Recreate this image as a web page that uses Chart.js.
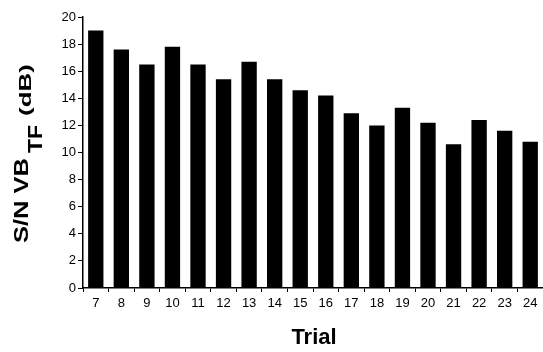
<!DOCTYPE html>
<html><head><meta charset="utf-8">
<script src="https://cdn.jsdelivr.net/npm/chart.js@4/dist/chart.umd.min.js"></script>
<style>html,body{margin:0;padding:0;background:#fff}#wrap{width:543px;height:352px}</style>
</head><body><div id="wrap"><canvas id="c" width="543" height="352"></canvas></div>
<script>
const trials = ['7','8','9','10','11','12','13','14','15','16','17','18','19','20','21','22','23','24'];
const snValues = [19.0, 17.6, 16.5, 17.8, 16.5, 15.4, 16.7, 15.4, 14.6, 14.2, 12.9, 12.0, 13.3, 12.2, 10.6, 12.4, 11.6, 10.8];
const yTicks = [0, 2, 4, 6, 8, 10, 12, 14, 16, 18, 20];
const xTitle = 'Trial';
const yTitleMain = 'S/N VB';
const yTitleSub = 'TF';
const yTitleUnit = '(dB)';

const FONT = '"Liberation Sans", Arial, sans-serif';

function drawStretched(ctx, text, font, startAlong, endAlong, baseline) {
  ctx.font = font;
  const w = ctx.measureText(text).width;
  const len = endAlong - startAlong;
  ctx.save();
  ctx.translate(startAlong, baseline);
  ctx.scale(len / w, 1);
  ctx.fillText(text, 0, 0);
  ctx.restore();
}

const titlePlugin = {
  id: 'titles',
  afterDraw(chart) {
    const ctx = chart.ctx;
    ctx.save();
    ctx.fillStyle = '#000';
    ctx.font = 'bold 22px ' + FONT;
    ctx.textAlign = 'center';
    ctx.textBaseline = 'alphabetic';
    ctx.fillText(xTitle, 314, 344);
    ctx.rotate(-Math.PI / 2);
    ctx.textAlign = 'left';
    drawStretched(ctx, yTitleMain, 'bold 21px ' + FONT, -243, -158, 28);
    drawStretched(ctx, yTitleSub, 'bold 20px ' + FONT, -153, -125, 42);
    drawStretched(ctx, yTitleUnit, 'bold 16px ' + FONT, -116, -64, 31);
    ctx.restore();
  }
};

new Chart(document.getElementById('c'), {
  type: 'bar',
  data: {
    labels: trials,
    datasets: [{
      data: snValues,
      backgroundColor: '#000',
      borderWidth: 0,
      barPercentage: 0.6,
      categoryPercentage: 1.0
    }]
  },
  options: {
    responsive: false,
    animation: false,
    devicePixelRatio: 1,
    layout: { padding: { top: 17, right: 0, left: 0, bottom: 0 } },
    plugins: { legend: { display: false }, tooltip: { enabled: false } },
    scales: {
      x: {
        offset: true,
        grid: { display: true, drawOnChartArea: false, drawTicks: true, tickLength: 4, color: '#000', lineWidth: 1, offset: true },
        border: { display: true, color: '#000', width: 1.5 },
        ticks: { color: '#000', font: { family: FONT, size: 13 }, padding: 4, maxRotation: 0, autoSkip: false },
        afterFit(s) { s.height = 64; }
      },
      y: {
        min: 0, max: 20,
        afterBuildTicks(s) { s.ticks = yTicks.map(v => ({ value: v })); },
        grid: { display: true, drawOnChartArea: false, drawTicks: true, tickLength: 5, color: '#000', lineWidth: 1 },
        border: { display: true, color: '#000', width: 1.5 },
        ticks: { color: '#000', font: { family: FONT, size: 13 }, padding: 2 },
        afterFit(s) { s.width = 83; }
      }
    }
  },
  plugins: [titlePlugin]
});
</script>
</body></html>
